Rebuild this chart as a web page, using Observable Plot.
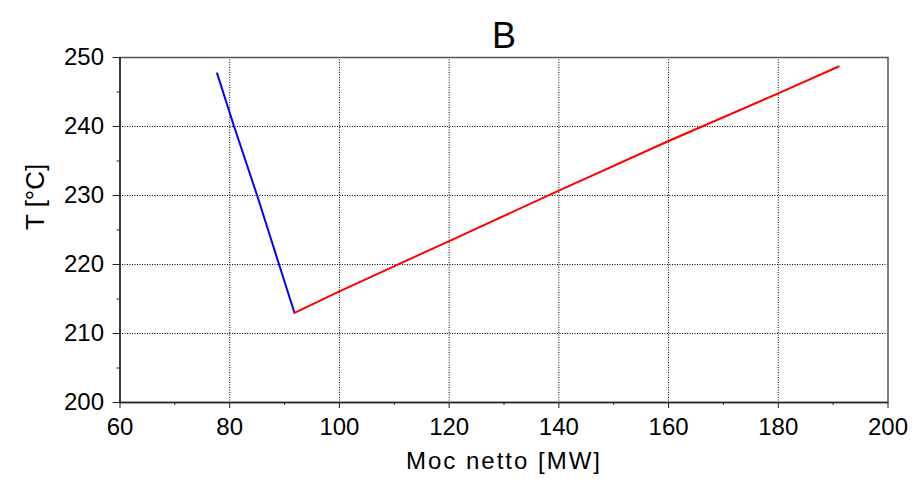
<!DOCTYPE html>
<html>
<head>
<meta charset="utf-8">
<script src="https://cdn.jsdelivr.net/npm/d3@7"></script>
<script src="https://cdn.jsdelivr.net/npm/@observablehq/plot@0.6"></script>
<style>
  html, body { margin: 0; padding: 0; background: #fff; }
  #chart svg { display: block; }
</style>
</head>
<body>
<div id="chart"></div>
<script>
const titleText = "B";
const xLabel = "Moc netto [MW]";
const yLabel = "T [°C]";

const xMajorTicks = [60, 80, 100, 120, 140, 160, 180, 200];
const xMinorTicks = [70, 90, 110, 130, 150, 170, 190];
const yMajorTicks = [200, 210, 220, 230, 240, 250];
const yMinorTicks = [205, 215, 225, 235, 245];

const blueX = [77.7, 80.8, 85.0, 89.0, 91.8];
const blueY = [247.7, 240.0, 230.0, 220.0, 213.0];
const redX = [91.8, 100, 120, 140, 160, 180, 191];
const redY = [213.0, 216.1, 223.4, 230.7, 237.9, 244.8, 248.7];

const blue = blueX.map((x, i) => ({x, y: blueY[i]}));
const red = redX.map((x, i) => ({x, y: redY[i]}));

const font = "'Liberation Sans', Arial, Helvetica, sans-serif";

const chart = Plot.plot({
  width: 918,
  height: 485,
  marginLeft: 119.5,
  marginRight: 30.5,
  marginTop: 57,
  marginBottom: 83,
  style: {fontFamily: font, fontSize: "24px", color: "#000", background: "#fff"},
  x: {domain: [60, 200], label: null},
  y: {domain: [200, 250], label: null},
  marks: [
    Plot.gridX(xMajorTicks.slice(1, -1), {stroke: "#000", strokeOpacity: 1, strokeDasharray: "1,1.5"}),
    Plot.gridY(yMajorTicks.slice(1, -1), {stroke: "#000", strokeOpacity: 1, strokeDasharray: "1,1.5"}),
    Plot.frame({stroke: "#555", strokeWidth: 1.5}),
    Plot.ruleX([60], {stroke: "#222", strokeWidth: 1.5}),
    Plot.ruleY([200], {stroke: "#222", strokeWidth: 1.5}),
    Plot.axisX({ticks: xMajorTicks, tickSize: 6, tickPadding: 9, tickFormat: d3.format("d"), fontSize: 24, label: null, stroke: "#222"}),
    Plot.axisX({ticks: xMinorTicks, tickSize: 3, text: null, label: null, stroke: "#222"}),
    Plot.axisY({ticks: yMajorTicks, tickSize: 7, tickPadding: 9, tickFormat: d3.format("d"), fontSize: 24, label: null, stroke: "#222"}),
    Plot.axisY({ticks: yMinorTicks, tickSize: 3, text: null, label: null, stroke: "#222"}),
    Plot.line(blue, {x: "x", y: "y", stroke: "#0000ff", strokeWidth: 2}),
    Plot.line(red, {x: "x", y: "y", stroke: "#ff0000", strokeWidth: 2}),
    Plot.text([titleText], {frameAnchor: "top", dy: -35.5, text: d => d, fontSize: 36, fill: "#000"}),
    Plot.text([xLabel], {frameAnchor: "bottom", dy: 66, text: d => d, fontSize: 24, fill: "#000"}),
    Plot.text([yLabel], {frameAnchor: "left", dx: -84.5, rotate: -90, text: d => d, fontSize: 26, fill: "#000"})
  ]
});
document.getElementById("chart").appendChild(chart);
d3.select(chart).selectAll("text").filter(function() { return this.textContent === xLabel; })
  .attr("letter-spacing", "2px");
</script>
</body>
</html>
